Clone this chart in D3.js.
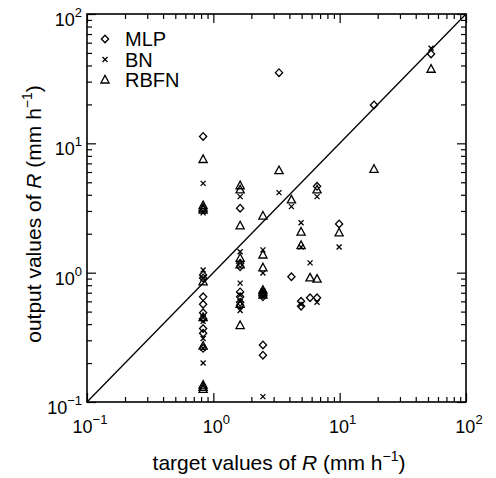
<!DOCTYPE html>
<html>
<head>
<meta charset="utf-8">
<script src="https://cdn.jsdelivr.net/npm/d3@7"></script>
<style>
body { margin: 0; background: #fff; }
text { font-family: "Liberation Sans", Arial, sans-serif; fill: #000; }
</style>
</head>
<body>
<svg id="canvas" width="496" height="478"></svg>
<script>
// ---- data (target, output) ----
var decades = [0.1, 1, 10, 100];
var exponents = ["\u22121", "0", "1", "2"];

var mlp = [
  [0.83, 11.3], [0.83, 0.96], [0.83, 0.91], [0.83, 0.65], [0.83, 0.57], [0.83, 0.49],
  [0.83, 0.44], [0.83, 0.37], [0.83, 0.34], [0.83, 0.26],
  [1.63, 3.15], [1.63, 1.18], [1.63, 1.11], [1.63, 0.71], [1.63, 0.65], [1.63, 0.59], [1.63, 0.56],
  [2.47, 0.71], [2.47, 0.68], [2.47, 0.65], [2.47, 0.276], [2.47, 0.23],
  [3.31, 35.2], [4.15, 0.93], [4.95, 0.60], [4.95, 0.55], [5.83, 0.64],
  [6.62, 4.65], [6.62, 0.64], [9.9, 2.38], [18.7, 19.8], [52.9, 49.1]
];
var bn = [
  [0.83, 4.9], [0.83, 3.0], [0.83, 2.9], [0.83, 1.05], [0.83, 0.91], [0.83, 0.45],
  [0.83, 0.42], [0.83, 0.31], [0.83, 0.26], [0.83, 0.20],
  [1.63, 3.87], [1.63, 1.45], [1.63, 0.83], [1.63, 0.67], [1.63, 0.60], [1.63, 0.51],
  [2.47, 1.50], [2.47, 0.995], [2.47, 0.72], [2.47, 0.69], [2.47, 0.66], [2.47, 0.11],
  [3.31, 4.16], [4.15, 3.24], [4.95, 2.43], [4.95, 1.58], [4.95, 0.57], [5.83, 1.19],
  [6.62, 3.87], [6.62, 0.59], [9.9, 1.58], [52.9, 54.3]
];
var rbfn = [
  [0.83, 7.5], [0.83, 3.3], [0.83, 3.15], [0.83, 3.05], [0.83, 0.85], [0.83, 0.45],
  [0.83, 0.27], [0.83, 0.135], [0.83, 0.13], [0.83, 0.125],
  [1.63, 4.7], [1.63, 4.36], [1.63, 2.30], [1.63, 1.29], [1.63, 1.15], [1.63, 0.57], [1.63, 0.39],
  [2.47, 2.74], [2.47, 1.37], [2.47, 1.09], [2.47, 0.73], [2.47, 0.70], [2.47, 0.67],
  [3.31, 6.15], [4.15, 3.65], [4.95, 2.06], [4.95, 1.62], [5.83, 0.91],
  [6.62, 4.36], [6.62, 0.89], [9.9, 2.03], [18.7, 6.3], [52.9, 37.4]
];
var legendNames = ["MLP", "BN", "RBFN"];

// ---- layout ----
var svg = d3.select('#canvas');
var plot = { left: 87, right: 466, top: 14, bottom: 402 };

var x = d3.scaleLog().domain([0.1, 100]).range([plot.left, plot.right]);
var y = d3.scaleLog().domain([0.1, 100]).range([plot.bottom, plot.top]);

var minor = [];
decades.slice(0, 3).forEach(function(d){
  for (var k = 2; k <= 9; k++) minor.push(d * k);
});

// ticks, inward on all four sides
function tickAxis(axisFn, scale, values, size, transform){
  svg.append('g').attr('transform', transform)
    .call(axisFn(scale).tickValues(values).tickSize(size).tickFormat(''))
    .call(function(g){ g.select('.domain').remove(); })
    .selectAll('line').attr('stroke', '#000').attr('stroke-width', 1.2);
}
tickAxis(d3.axisBottom, x, decades, -9, 'translate(0,' + plot.bottom + ')');
tickAxis(d3.axisBottom, x, minor, -5, 'translate(0,' + plot.bottom + ')');
tickAxis(d3.axisTop, x, decades, -9, 'translate(0,' + plot.top + ')');
tickAxis(d3.axisTop, x, minor, -5, 'translate(0,' + plot.top + ')');
tickAxis(d3.axisLeft, y, decades, -9, 'translate(' + plot.left + ',0)');
tickAxis(d3.axisLeft, y, minor, -5, 'translate(' + plot.left + ',0)');
tickAxis(d3.axisRight, y, decades, -9, 'translate(' + plot.right + ',0)');
tickAxis(d3.axisRight, y, minor, -5, 'translate(' + plot.right + ',0)');

// frame
svg.append('rect')
  .attr('x', plot.left).attr('y', plot.top)
  .attr('width', plot.right - plot.left).attr('height', plot.bottom - plot.top)
  .attr('fill', 'none').attr('stroke', '#000').attr('stroke-width', 1.6);

// 1:1 line
svg.append('line')
  .attr('x1', x(0.1)).attr('y1', y(0.1)).attr('x2', x(100)).attr('y2', y(100))
  .attr('stroke', '#000').attr('stroke-width', 1.3);

// tick labels: 10 with superscript exponent
function powerLabel(sel, i){
  sel.append('tspan').text('10');
  sel.append('tspan').attr('dy', -9).attr('font-size', 13).text(exponents[i]);
}
decades.forEach(function(d, i){
  var t = svg.append('text').attr('x', x(d) + 3).attr('y', plot.bottom + 31)
    .attr('text-anchor', 'middle').attr('font-size', 18);
  powerLabel(t, i);
  var u = svg.append('text').attr('x', plot.left - 5).attr('y', y(d) + 12)
    .attr('text-anchor', 'end').attr('font-size', 18);
  powerLabel(u, i);
});

// axis titles
function titleText(sel, prefix){
  sel.append('tspan').text(prefix);
  sel.append('tspan').attr('font-style', 'italic').text('R');
  sel.append('tspan').text(' (mm h');
  sel.append('tspan').attr('dy', -9).attr('font-size', 14).text('\u22121');
  sel.append('tspan').attr('dy', 9).text(')');
}
titleText(svg.append('text').attr('x', 279).attr('y', 470)
  .attr('text-anchor', 'middle').attr('font-size', 21), 'target values of ');
titleText(svg.append('text').attr('transform', 'translate(41,214) rotate(-90)')
  .attr('text-anchor', 'middle').attr('font-size', 21), 'output values of ');

// markers
var shapes = [
  'M0,-3.8L3.6,0L0,3.8L-3.6,0Z',
  'M-2.5,-2.5L2.5,2.5M2.5,-2.5L-2.5,2.5',
  'M0,-4.6L4.1,3L-4.1,3Z'
];
[mlp, bn, rbfn].forEach(function(series, s){
  svg.append('g').selectAll('path').data(series).join('path')
    .attr('d', shapes[s])
    .attr('transform', function(d){ return 'translate(' + x(d[0]) + ',' + y(d[1]) + ')'; })
    .attr('fill', 'none').attr('stroke', '#000').attr('stroke-width', 1.3);
});

// legend
legendNames.forEach(function(name, i){
  var ly = 39 + i * 20.5;
  svg.append('path').attr('d', shapes[i])
    .attr('transform', 'translate(105,' + ly + ')')
    .attr('fill', 'none').attr('stroke', '#000').attr('stroke-width', 1.3);
  svg.append('text').attr('x', 125).attr('y', ly + 7)
    .attr('font-size', 20).text(name);
});
</script>
</body>
</html>
